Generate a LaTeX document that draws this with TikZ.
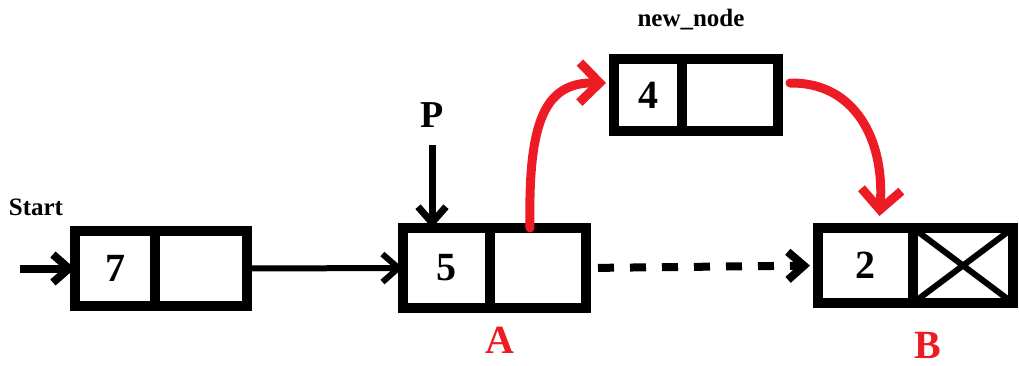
\documentclass[tikz,border=0pt]{standalone}
\usepackage{fontspec}
\setmainfont{Liberation Serif}
\usepackage{tikz}
\usetikzlibrary{arrows.meta,positioning}
\definecolor{paintred}{HTML}{ED1C24}
\tikzset{
  cell/.style={draw,line width=4.75pt,outer sep=0pt,inner sep=0pt,
    minimum height=37.5pt,font=\bfseries\fontsize{20}{20}\selectfont},
  link/.style={cell,minimum width=48pt},
  arrow/.style={-{Straight Barb[length=8pt,width=14pt]},line width=3.5pt},
  dotarrow/.style={arrow,line width=4pt,dash pattern=on 8pt off 8pt},
  redarrow/.style={-{Straight Barb[length=10pt,width=20pt]},draw=paintred,line width=4.5pt,line cap=round},
  small/.style={font=\bfseries\fontsize{12.5}{12.5}\selectfont},
  tag/.style={text=paintred,font=\bfseries\fontsize{20}{20}\selectfont}
}
\begin{document}
\begin{tikzpicture}[x=0.5pt,y=-0.5pt]
  \useasboundingbox (0,0) rectangle (1019,365);
  % list nodes
  \node[cell,minimum width=40pt] (d7) at (115,268.5) {7};
  \node[link,minimum width=46pt,right=0pt of d7] (l7) {};
  \node[cell,minimum width=43.5pt,minimum height=40pt] (d5) at (446.5,268) {5};
  \node[link,minimum height=40pt,right=0pt of d5] (l5) {};
  \node[cell,minimum width=34pt,minimum height=36pt] (d4) at (648,95) {4};
  \node[link,minimum height=36pt,right=0pt of d4] (l4) {};
  \node[cell,minimum width=47.5pt] (d2) at (865.5,265.5) {2};
  \node[link,minimum width=50pt,right=0pt of d2] (l2) {};
  \draw[line width=3pt] (l2.north west) -- (l2.south east) (l2.south west) -- (l2.north east);
  % labels
  \node[small] (start) at (36,207) {Start};
  \node[small] (new) at (691,20) {new\_node};
  \node[font=\bfseries\fontsize{19}{19}\selectfont] (P) at (432,115) {P};
  \node[tag] (A) at (500,340) {A};
  \node[tag] (B) at (928,345) {B};
  \coordinate (in) at (20,268.5);
  % links
  \draw[arrow,line width=4pt] (in) -- (d7.west);
  \draw[arrow,line width=3pt] (l7.east) -- (d5.west);
  \draw[arrow] ([yshift=-5pt]P.south) -- (P.south |- d5.north);
  \draw[dotarrow,shorten <=6pt,shorten >=4pt] (l5.east) -- (d2.west);
  \draw[redarrow] ([xshift=-4pt]l5.north) .. controls (528,120) and (545,82) .. ([xshift=-4pt,yshift=6pt]d4.west);
  \draw[redarrow] ([xshift=6pt,yshift=6pt]l4.east) .. controls (855,82) and (885,140) .. ([xshift=7pt,yshift=6pt]d2.north);
\end{tikzpicture}
\end{document}
